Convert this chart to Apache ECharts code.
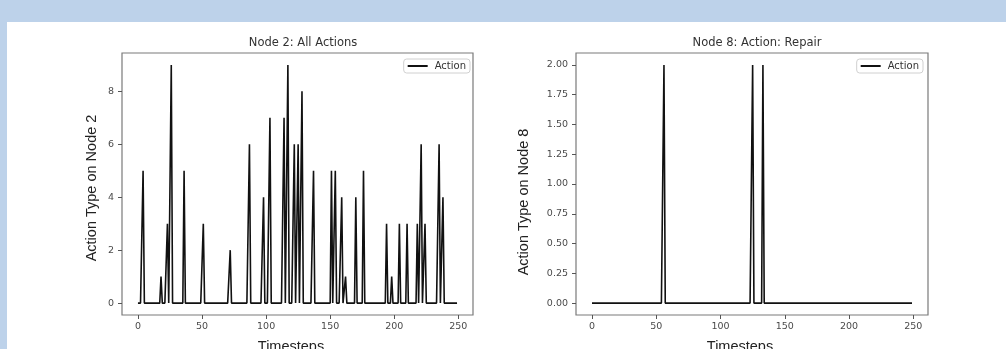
<!DOCTYPE html>
<html>
<head>
<meta charset="utf-8">
<script src="https://cdn.jsdelivr.net/npm/echarts@6/dist/echarts.min.js"></script>
<style>
  html, body { margin: 0; padding: 0; background: #bdd2ea; }
  #panel { position: absolute; left: 7px; top: 22px; right: 0; bottom: 0; background: #fff; }
  #chart { position: absolute; left: 0; top: 0; width: 1006px; height: 349px; }
</style>
</head>
<body>
<div id="panel"></div>
<div id="chart"></div>
<script>
// timesteps run 0..249, the action is 0 except at these steps
const stepCount = 250;
const node2Steps  = [4, 18, 23, 26, 36, 51, 72, 87, 98, 103, 114, 117, 122, 125, 128, 137, 151, 154, 159, 162, 170, 176, 194, 198, 204, 210, 218, 221, 224, 235, 238];
const node2Values = [5, 1, 3, 9, 5, 3, 2, 6, 4, 7, 7, 9, 6, 6, 8, 5, 5, 5, 4, 1, 4, 5, 3, 1, 3, 3, 3, 6, 3, 6, 4];
const node8Steps  = [56, 125, 133];
const node8Values = [2, 2, 2];

const xTicks = [0, 50, 100, 150, 200, 250];
const node2YTicks = [0, 2, 4, 6, 8];
const node8YTicks = [0, 0.25, 0.5, 0.75, 1, 1.25, 1.5, 1.75, 2];

function series(steps, values) {
  const v = new Array(stepCount).fill(0);
  steps.forEach((s, i) => { v[s] = values[i]; });
  return v.map((y, t) => [t, y]);
}

const TICK_FONT = "DejaVu Sans";
const LABEL_FONT = "Liberation Sans";

function xAxis(gridIndex) {
  return {
    type: "value", gridIndex, min: -12.45, max: 261.45,
    axisLine: { show: false, onZero: false },
    splitLine: { show: false },
    axisTick: { show: true, length: 4, customValues: xTicks, lineStyle: { color: "#555", width: 1 } },
    axisLabel: { customValues: xTicks, margin: 7, color: "#4a4a4a", fontFamily: TICK_FONT, fontSize: 9.5 },
  };
}

function yAxis(gridIndex, min, max, ticks, fmt) {
  return {
    type: "value", gridIndex, min, max,
    axisLine: { show: false, onZero: false },
    splitLine: { show: false },
    axisTick: { show: true, length: 4, customValues: ticks, lineStyle: { color: "#555", width: 1 } },
    axisLabel: { customValues: ticks, margin: 8, color: "#4a4a4a", fontFamily: TICK_FONT, fontSize: 9.5, formatter: fmt },
  };
}

function legend(right) {
  return {
    data: ["Action"], right, top: 59,
    icon: "rect", itemWidth: 20, itemHeight: 2,
    backgroundColor: "#fff", borderColor: "#d0d0d0", borderWidth: 1, borderRadius: 3,
    padding: [2, 4, 2, 4],
    textStyle: { color: "#333", fontFamily: TICK_FONT, fontSize: 10, padding: [0, 0, 0, 2] },
    selectedMode: false,
  };
}

function label(text, x, y, rotate) {
  return {
    type: "text", x, y, rotation: rotate ? Math.PI / 2 : 0,
    style: { text, fill: "#222", font: "14.5px " + LABEL_FONT, textAlign: "center", textVerticalAlign: rotate ? "middle" : "top" },
  };
}

const chart = echarts.init(document.getElementById("chart"));
chart.setOption({
  animation: false,
  backgroundColor: "transparent",
  title: [
    { text: "Node 2: All Actions", left: 298, top: 32, textAlign: "center",
      textStyle: { color: "#333", fontFamily: TICK_FONT, fontSize: 11.5, fontWeight: "normal" } },
    { text: "Node 8: Action: Repair", left: 752, top: 32, textAlign: "center",
      textStyle: { color: "#333", fontFamily: TICK_FONT, fontSize: 11.5, fontWeight: "normal" } },
  ],
  grid: [
    { left: 122, right: 533, top: 53, bottom: 34, show: true, borderColor: "#7a7a7a", borderWidth: 1.2, backgroundColor: "transparent" },
    { left: 576, right: 78, top: 53, bottom: 34, show: true, borderColor: "#7a7a7a", borderWidth: 1.2, backgroundColor: "transparent" },
  ],
  legend: [legend(536), legend(83)],
  xAxis: [xAxis(0), xAxis(1)],
  yAxis: [
    yAxis(0, -0.45, 9.45, node2YTicks, (v) => String(v)),
    yAxis(1, -0.1, 2.1, node8YTicks, (v) => v.toFixed(2)),
  ],
  series: [
    { name: "Action", type: "line", xAxisIndex: 0, yAxisIndex: 0, symbol: "none",
      lineStyle: { color: "#111", width: 1.6 }, itemStyle: { color: "#111" }, data: series(node2Steps, node2Values) },
    { name: "Action", type: "line", xAxisIndex: 1, yAxisIndex: 1, symbol: "none",
      lineStyle: { color: "#111", width: 1.6 }, itemStyle: { color: "#111" }, data: series(node8Steps, node8Values) },
  ],
  graphic: [
    label("Action Type on Node 2", 91.5, 188, true),
    label("Action Type on Node 8", 524, 202, true),
    label("Timesteps", 291, 339, false),
    label("Timesteps", 740, 339, false),
  ],
});
</script>
</body>
</html>
